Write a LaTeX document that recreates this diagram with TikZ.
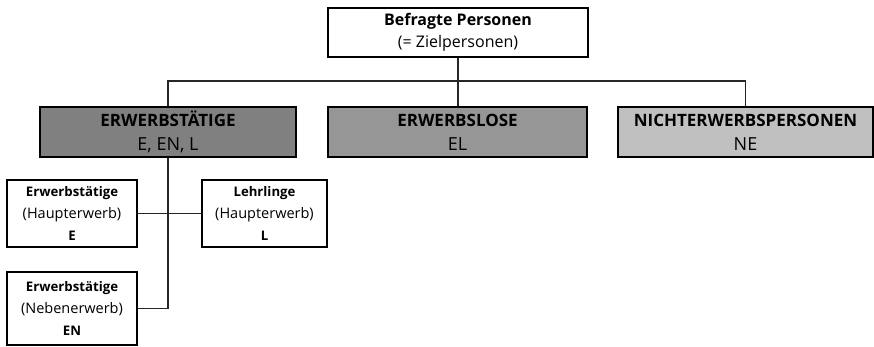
\documentclass[tikz,border=0pt]{standalone}
\usepackage{fontspec}
\setmainfont{Open Sans}
\definecolor{gA}{HTML}{808080}
\definecolor{gB}{HTML}{969696}
\definecolor{gC}{HTML}{C0C0C0}
\newcommand{\fsA}{\fontsize{16}{22}\selectfont}
\newcommand{\fsB}{\fontsize{17}{24}\selectfont}
\newcommand{\fsC}{\fontsize{18}{24}\selectfont}
\newcommand{\fsD}{\fontsize{13.2}{22}\selectfont}
\newcommand{\fsE}{\fontsize{14.5}{22}\selectfont}
\begin{document}
\begin{tikzpicture}[x=1pt,y=-1pt,
  box/.style={draw=black,line width=2pt,inner sep=0pt,align=center,anchor=center},
  topbox/.style={box,fill=white,minimum width=260pt,minimum height=49pt,font=\fsA},
  catbox/.style={box,minimum width=256pt,minimum height=50pt,font=\fsB},
  subbox/.style={box,fill=white,font=\fsD},
  conn/.style={draw=black!85,line width=1.2pt}]
\useasboundingbox (0,0) rectangle (874,346);
\node[topbox] (top) at (458,32.5) {\textbf{Befragte Personen}\\(= Zielpersonen)};
\node[catbox,fill=gA] (et) at (168,132) {\textbf{ERWERBSTÄTIGE}\\{\fsC E, EN, L}};
\node[catbox,fill=gB,minimum width=259pt] (el) at (457.5,132) {\textbf{ERWERBSLOSE}\\{\fsC EL}};
\node[catbox,fill=gC,minimum width=255pt] (ne) at (745.5,132) {\textbf{NICHTERWERBSPERSONEN}\\{\fsC NE}};
\node[subbox,minimum width=130pt,minimum height=67pt] (e) at (72,213.5) {\textbf{Erwerbstätige}\\{\fsE (Haupterwerb)}\\\textbf{E}};
\node[subbox,minimum width=125pt,minimum height=67pt] (l) at (264.5,213.5) {\textbf{Lehrlinge}\\{\fsE (Haupterwerb)}\\\textbf{L}};
\node[subbox,minimum width=130pt,minimum height=73pt] (en) at (72,308.5) {\textbf{Erwerbstätige}\\{\fsE (Nebenerwerb)}\\\textbf{EN}};
\coordinate (bus) at (458,81);
\draw[conn] (top.south) -- (top.south |- el.north);
\draw[conn] (et.north) |- (bus) -| (ne.north);
\draw[conn] (e.east) -- (l.west);
\draw[conn] (et.south) |- (en.east);
\end{tikzpicture}
\end{document}
